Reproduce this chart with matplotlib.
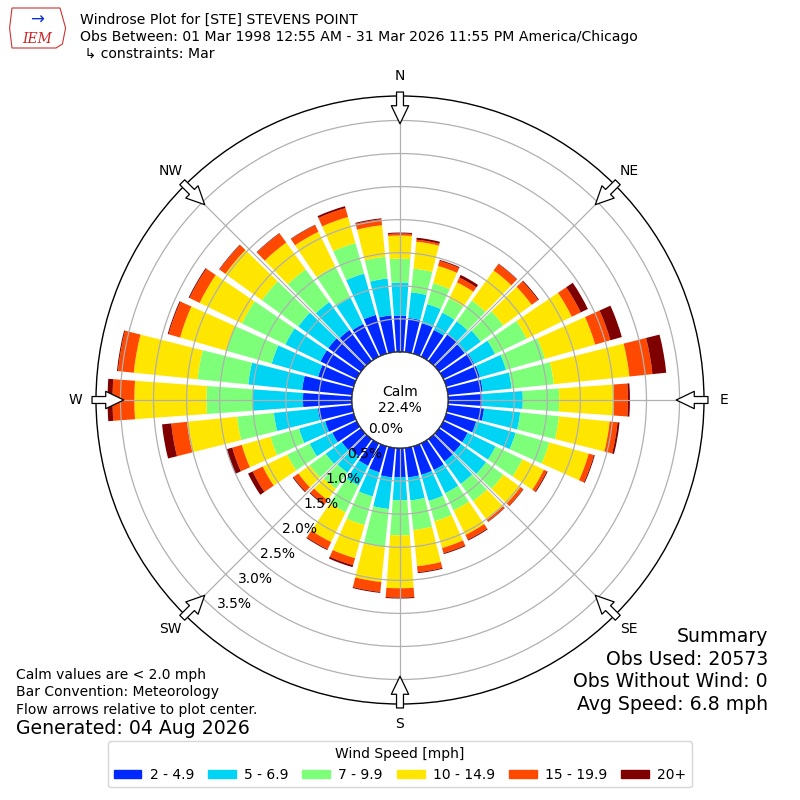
import numpy as np
import matplotlib
matplotlib.use("Agg")
import matplotlib.pyplot as plt
from matplotlib.patches import Patch, Circle, Polygon

# direction of the bar centres, degrees from north
directions = np.arange(0, 360, 10)
speed_labels = ["2 - 4.9", "5 - 6.9", "7 - 9.9", "10 - 14.9", "15 - 19.9", "20+"]
colors = ["#0028ff", "#00d4f5", "#7dff7a", "#ffe600", "#ff4800", "#7f0000"]

# percent of observations per direction for each speed bin
spd_2_5 = [0.55, 0.52, 0.48, 0.45, 0.50, 0.48, 0.52, 0.53, 0.53, 0.52, 0.55, 0.47,
           0.41, 0.41, 0.42, 0.45, 0.45, 0.45, 0.44, 0.45, 0.41, 0.38, 0.33, 0.36,
           0.41, 0.45, 0.52, 0.74, 0.76, 0.56, 0.61, 0.61, 0.58, 0.55, 0.61, 0.56]
spd_5_7 = [0.50, 0.39, 0.30, 0.29, 0.24, 0.30, 0.35, 0.41, 0.44, 0.61, 0.55, 0.62,
           0.47, 0.47, 0.42, 0.39, 0.41, 0.35, 0.35, 0.48, 0.38, 0.33, 0.30, 0.30,
           0.38, 0.41, 0.67, 0.76, 0.82, 0.73, 0.59, 0.56, 0.52, 0.44, 0.65, 0.56]
spd_7_10 = [0.36, 0.36, 0.33, 0.24, 0.39, 0.42, 0.53, 0.61, 0.64, 0.55, 0.59, 0.53,
            0.45, 0.32, 0.32, 0.29, 0.32, 0.45, 0.53, 0.58, 0.45, 0.45, 0.30, 0.30,
            0.38, 0.45, 0.56, 0.70, 0.77, 0.71, 0.73, 0.68, 0.61, 0.53, 0.48, 0.33]
spd_10_15 = [0.35, 0.41, 0.27, 0.27, 0.56, 0.53, 0.76, 0.79, 1.15, 0.83, 0.77, 0.62,
             0.36, 0.32, 0.35, 0.41, 0.42, 0.55, 0.80, 0.53, 0.52, 0.50, 0.21, 0.21,
             0.41, 0.45, 0.76, 1.09, 0.97, 0.73, 0.71, 0.68, 0.50, 0.58, 0.41, 0.48]
spd_15_20 = [0.03, 0.03, 0.08, 0.08, 0.12, 0.12, 0.15, 0.24, 0.35, 0.21, 0.12, 0.08,
             0.05, 0.05, 0.03, 0.08, 0.08, 0.09, 0.14, 0.15, 0.11, 0.12, 0.08, 0.09,
             0.17, 0.15, 0.24, 0.33, 0.24, 0.18, 0.17, 0.11, 0.17, 0.11, 0.14, 0.09]
spd_20 = [0.015, 0.03, 0.015, 0.045, 0.008, 0.015, 0.12, 0.18, 0.21, 0.03, 0.03, 0.015,
          0.015, 0.008, 0.008, 0.015, 0.015, 0.015, 0.015, 0.015, 0.03, 0.015, 0.015, 0.015,
          0.076, 0.09, 0.14, 0.076, 0.015, 0.015, 0.015, 0.008, 0.008, 0.008, 0.03, 0.015]
bins = [spd_2_5, spd_5_7, spd_7_10, spd_10_15, spd_15_20, spd_20]

calm_pct = 22.4
ring_values = [0.0, 0.5, 1.0, 1.5, 2.0, 2.5, 3.0, 3.5]
compass = ["N", "NE", "E", "SE", "S", "SW", "W", "NW"]

fig = plt.figure(figsize=(8, 8), dpi=100)
ax = fig.add_axes([0.12, 0.12, 0.76, 0.76], projection="polar")
ax.set_theta_zero_location("N")
ax.set_theta_direction(-1)
hole = 0.727  # calm circle, in percent units
ax.set_rorigin(-hole)
ax.set_ylim(0, 3.87)

theta = np.deg2rad(directions)
width = np.deg2rad(8.3)
bottom = np.zeros(len(directions))
for vals, c in zip(bins, colors):
    vals = np.array(vals)
    ax.bar(theta, vals, width=width, bottom=bottom, color=c, edgecolor="none", zorder=1)
    bottom = bottom + vals

ax.set_axisbelow(False)
ax.set_rgrids(ring_values, labels=["%.1f%%" % v for v in ring_values], angle=221, fontsize=10)
ax.set_thetagrids(np.arange(0, 360, 45), labels=compass, fontsize=10)
ax.tick_params(axis="x", pad=4)
ax.grid(True, color="#b0b0b0", lw=0.9)
ax.spines["polar"].set_linewidth(1.0)

# calm circle in the middle
calm = Circle((0.5, 0.5), 48 / 608, transform=ax.transAxes, fc="white", ec="black",
              lw=1.0, zorder=5)
ax.add_patch(calm)
ax.text(0.5, 0.5, "Calm\n%.1f%%" % calm_pct, transform=ax.transAxes, ha="center",
        va="center", fontsize=10, zorder=6, linespacing=1.2)

# flow arrows at the edge, pointing to the centre
for d in np.arange(0, 360, 45):
    ax.annotate("", xy=(np.deg2rad(d), 3.45), xytext=(np.deg2rad(d), 3.93),
                arrowprops=dict(arrowstyle="simple,head_length=1.3,head_width=1.25,tail_width=0.5",
                                fc="white", ec="black", lw=0.9, mutation_scale=10,
                                shrinkA=0, shrinkB=0),
                annotation_clip=False, zorder=7)

# header text
fig.text(0.1, 0.975, "Windrose Plot for [STE] STEVENS POINT", fontsize=10.1, va="center")
fig.text(0.1, 0.954, "Obs Between: 01 Mar 1998 12:55 AM - 31 Mar 2026 11:55 PM America/Chicago",
         fontsize=10.1, va="center")
fig.text(0.1, 0.933, " \u21b3 constraints: Mar", fontsize=10.1, va="center")

# simple IEM logo
logo = Polygon([(0.015, 0.99), (0.075, 0.99), (0.082, 0.965), (0.078, 0.945),
                (0.07, 0.94), (0.015, 0.94), (0.012, 0.965)], closed=True,
               transform=fig.transFigure, fc="none", ec="#cc3333", lw=0.8)
fig.patches.append(logo)
fig.text(0.046, 0.951, "IEM", fontsize=10, color="#cc2222", style="italic",
         family="DejaVu Serif", ha="center", va="center")
fig.text(0.046, 0.975, "\u2192", fontsize=12, color="#1133cc", ha="center", va="center")

# notes bottom left
fig.text(0.02, 0.156, "Calm values are < 2.0 mph", fontsize=10, va="center")
fig.text(0.02, 0.135, "Bar Convention: Meteorology", fontsize=10, va="center")
fig.text(0.02, 0.113, "Flow arrows relative to plot center.", fontsize=10, va="center")
fig.text(0.02, 0.089, "Generated: 04 Aug 2026", fontsize=13.6, va="center")

# summary bottom right
fig.text(0.96, 0.205, "Summary", fontsize=13.6, ha="right", va="center")
fig.text(0.96, 0.176, "Obs Used: 20573", fontsize=13.6, ha="right", va="center")
fig.text(0.96, 0.148, "Obs Without Wind: 0", fontsize=13.6, ha="right", va="center")
fig.text(0.96, 0.119, "Avg Speed: 6.8 mph", fontsize=13.6, ha="right", va="center")

handles = [Patch(color=c, label=l) for c, l in zip(colors, speed_labels)]
fig.legend(handles=handles, loc="lower center", bbox_to_anchor=(0.5, 0.007), ncol=6,
           title="Wind Speed [mph]", fontsize=10, title_fontsize=10, handlelength=2.0,
           handleheight=0.6, handletextpad=0.6, columnspacing=1.0, frameon=True,
           edgecolor="#cccccc")

fig.savefig("out.png", dpi=100)
